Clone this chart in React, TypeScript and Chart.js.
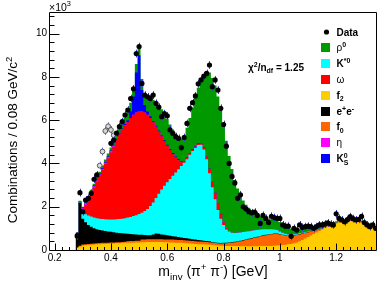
import { useEffect, useRef } from "react";
import { Chart, registerables } from "chart.js";

Chart.register(...registerables);

const W = 382;
const H = 283;
const FONT = '"Liberation Sans", Arial, Helvetica, sans-serif';

// ---- binning (GeV) ----
const BIN_START = 0.28;
const BIN_WIDTH = 0.01;

// ---- stacked components, per bin, in units of 10^3 ----
const F2 = [
  0.10, 0.15, 0.20, 0.22, 0.23, 0.24, 0.25, 0.26, 0.27, 0.28,
  0.28, 0.29, 0.30, 0.30, 0.31, 0.31, 0.32, 0.33, 0.33, 0.34,
  0.34, 0.35, 0.35, 0.36, 0.36, 0.37, 0.37, 0.37, 0.37, 0.37,
  0.37, 0.36, 0.36, 0.35, 0.35, 0.34, 0.33, 0.33, 0.32, 0.31,
  0.30, 0.29, 0.28, 0.27, 0.27, 0.26, 0.25, 0.24, 0.23, 0.22,
  0.21, 0.20, 0.20, 0.19, 0.19, 0.18, 0.18, 0.18, 0.17, 0.17,
  0.17, 0.17, 0.17, 0.17, 0.17, 0.18, 0.18, 0.18, 0.19, 0.19,
  0.20, 0.21, 0.22, 0.23, 0.24, 0.26, 0.28, 0.31, 0.35, 0.40,
  0.46, 0.53, 0.60, 0.67, 0.74, 0.81, 0.88, 0.95, 1.02, 1.08,
  1.14, 1.19, 1.23, 1.27, 1.30, 1.32, 1.33, 1.34, 1.33, 1.31,
  1.29, 1.26, 1.22, 1.18, 1.13, 1.07, 1.00,
];
const F0 = [
  0.02, 0.05, 0.05, 0.05, 0.05, 0.05, 0.05, 0.05, 0.05, 0.05,
  0.05, 0.05, 0.05, 0.05, 0.05, 0.05, 0.05, 0.05, 0.08, 0.08,
  0.08, 0.08, 0.08, 0.13, 0.13, 0.13, 0.13, 0.13, 0.13, 0.13,
  0.13, 0.13, 0.13, 0.13, 0.13, 0.13, 0.13, 0.13, 0.13, 0.13,
  0.13, 0.13, 0.13, 0.12, 0.12, 0.12, 0.12, 0.12, 0.10, 0.10,
  0.10, 0.10, 0.11, 0.12, 0.14, 0.16, 0.18, 0.21, 0.24, 0.27,
  0.30, 0.33, 0.36, 0.39, 0.42, 0.45, 0.48, 0.50, 0.52, 0.54,
  0.55, 0.54, 0.50, 0.46, 0.42, 0.39, 0.37, 0.36, 0.34, 0.32,
  0.30, 0.26, 0.22, 0.18, 0.14, 0.11, 0.08, 0.06, 0.05, 0.04,
  0.04, 0.03, 0.03, 0.03, 0.03, 0.03, 0.03, 0.03, 0.03, 0.03,
  0.03, 0.03, 0.03, 0.03, 0.03, 0.03, 0.03,
];
const EE = [
  0.68, 2.00, 1.20, 1.01, 0.87, 0.78, 0.70, 0.65, 0.61, 0.57,
  0.55, 0.52, 0.49, 0.47, 0.44, 0.43, 0.40, 0.38, 0.34, 0.32,
  0.31, 0.29, 0.28, 0.21, 0.20, 0.18, 0.18, 0.22, 0.26, 0.25,
  0.22, 0.21, 0.19, 0.18, 0.16, 0.15, 0.14, 0.12, 0.11, 0.10,
  0.09, 0.08, 0.07, 0.07, 0.06, 0.05, 0.05, 0.04, 0.03, 0.03,
  0.03, 0.02, 0.02, 0.02, 0.02, 0.02, 0.02, 0.02, 0.02, 0.02,
  0.02, 0.02, 0.02, 0.02, 0.02, 0.02, 0.02, 0.02, 0.01, 0.01,
  0.01, 0.01, 0.01, 0.01, 0.01, 0.01, 0.01, 0.01, 0.01, 0.01,
  0.01, 0.01, 0.01, 0.01, 0.01, 0.01, 0.01, 0.01, 0.01, 0.01,
  0.01, 0.01, 0.01, 0.01, 0.01, 0.01, 0.01, 0.01, 0.01, 0.01,
  0.01, 0.01, 0.01, 0.01, 0.01, 0.01, 0.01,
];
const KSTAR = [
  0.00, 0.02, 0.27, 0.37, 0.45, 0.48, 0.50, 0.51, 0.52, 0.53,
  0.54, 0.55, 0.57, 0.59, 0.62, 0.64, 0.68, 0.71, 0.75, 0.79,
  0.84, 0.89, 0.95, 1.02, 1.11, 1.22, 1.35, 1.48, 1.64, 1.85,
  2.08, 2.27, 2.45, 2.62, 2.79, 2.96, 3.13, 3.30, 3.47, 3.66,
  3.88, 4.07, 4.24, 4.39, 4.42, 4.22, 3.78, 3.15, 2.54, 2.00,
  1.51, 1.13, 0.82, 0.62, 0.50, 0.44, 0.40, 0.39, 0.38, 0.37,
  0.36, 0.35, 0.34, 0.33, 0.32, 0.30, 0.28, 0.26, 0.24, 0.22,
  0.19, 0.16, 0.13, 0.10, 0.08, 0.06, 0.05, 0.05, 0.04, 0.04,
  0.03, 0.03, 0.03, 0.03, 0.03, 0.03, 0.03, 0.03, 0.02, 0.02,
  0.02, 0.02, 0.02, 0.02, 0.02, 0.02, 0.02, 0.02, 0.02, 0.02,
  0.02, 0.02, 0.02, 0.02, 0.02, 0.02, 0.02,
];
const OMEGA = [
  0.00, 0.00, 0.13, 0.44, 0.73, 1.05, 1.37, 1.69, 1.98, 2.27,
  2.55, 2.83, 3.10, 3.36, 3.64, 3.91, 4.13, 4.30, 4.40, 4.57,
  4.68, 4.74, 4.74, 4.68, 4.55, 4.35, 4.07, 3.70, 3.30, 2.88,
  2.45, 2.06, 1.69, 1.34, 1.01, 0.70, 0.42, 0.17, 0.06, 0.05,
  0.05, 0.05, 0.05, 0.05, 0.05, 0.08, 0.12, 0.18, 0.25, 0.30,
  0.32, 0.25, 0.12, 0.05, 0.02, 0, 0, 0, 0, 0,
  0, 0, 0, 0, 0, 0, 0, 0, 0, 0,
  0, 0, 0, 0, 0, 0, 0, 0, 0, 0,
  0, 0, 0, 0, 0, 0, 0, 0, 0, 0,
  0, 0, 0, 0, 0, 0, 0, 0, 0, 0,
  0, 0, 0, 0, 0, 0, 0,
];
const ETA = [
  0.00, 0.03, 0.08, 0.08, 0.08, 0.08, 0.08, 0.06, 0.06, 0.06,
  0.06, 0.06, 0.06, 0.06, 0.03, 0, 0, 0, 0, 0,
  0, 0, 0, 0, 0, 0, 0, 0, 0, 0,
  0, 0, 0, 0, 0, 0, 0, 0, 0, 0,
  0, 0, 0, 0, 0, 0, 0, 0, 0, 0,
  0, 0, 0, 0, 0, 0, 0, 0, 0, 0,
  0, 0, 0, 0, 0, 0, 0, 0, 0, 0,
  0, 0, 0, 0, 0, 0, 0, 0, 0, 0,
  0, 0, 0, 0, 0, 0, 0, 0, 0, 0,
  0, 0, 0, 0, 0, 0, 0, 0, 0, 0,
  0, 0, 0, 0, 0, 0, 0,
];
const KS = [
  0.00, 0.00, 0.03, 0.03, 0.03, 0.03, 0.03, 0.03, 0.03, 0.03,
  0.03, 0.03, 0.03, 0.03, 0.03, 0.03, 0.03, 0.05, 0.10, 0.30,
  0.85, 1.85, 2.60, 1.00, 0.35, 0.15, 0.08, 0.05, 0.04, 0.04,
  0.04, 0.04, 0.04, 0.04, 0.04, 0.04, 0.04, 0.04, 0.02, 0.02,
  0.02, 0.02, 0.02, 0.02, 0.02, 0.02, 0.02, 0.02, 0, 0,
  0, 0, 0, 0, 0, 0, 0, 0, 0, 0,
  0, 0, 0, 0, 0, 0, 0, 0, 0, 0,
  0, 0, 0, 0, 0, 0, 0, 0, 0, 0,
  0, 0, 0, 0, 0, 0, 0, 0, 0, 0,
  0, 0, 0, 0, 0, 0, 0, 0, 0, 0,
  0, 0, 0, 0, 0, 0, 0,
];
const RHO = [
  0.00, 0.03, 0.04, 0.05, 0.06, 0.07, 0.08, 0.09, 0.10, 0.11,
  0.12, 0.13, 0.14, 0.16, 0.18, 0.21, 0.25, 0.30, 0.38, 0.40,
  0.40, 0.40, 0.45, 0.50, 0.55, 0.65, 0.82, 1.00, 1.11, 1.18,
  1.21, 1.23, 1.19, 1.14, 1.07, 1.03, 1.01, 1.06, 1.19, 1.38,
  1.63, 1.96, 2.26, 2.58, 2.91, 3.35, 3.91, 4.45, 4.80, 4.95,
  4.93, 4.80, 4.53, 4.05, 3.48, 2.94, 2.46, 2.04, 1.73, 1.46,
  1.24, 1.07, 0.92, 0.80, 0.70, 0.61, 0.55, 0.51, 0.48, 0.46,
  0.44, 0.43, 0.43, 0.41, 0.36, 0.32, 0.28, 0.24, 0.23, 0.22,
  0.21, 0.20, 0.19, 0.18, 0.17, 0.15, 0.13, 0.10, 0.09, 0.07,
  0.05, 0.04, 0.04, 0.04, 0.04, 0.04, 0.04, 0.04, 0.04, 0.04,
  0.04, 0.04, 0.04, 0.04, 0.04, 0.04, 0.04,
];

// ---- measured data (10^3), null = not drawn ----
const DATA = [
  0.65, 2.65, 1.77, 2.31, 2.39, 2.62, 3.27, 3.47, null, null,
  null, null, 4.93, 5.08, 5.40, 5.70, 5.93, 6.24, 6.47, 7.00,
  7.45, 9.08, 9.40, 7.70, 7.16, 7.08, 7.00, 7.16, 6.78, 6.60,
  6.16, 6.30, 6.20, 5.55, 5.39, 5.24, 5.16, 4.73, 5.20, 5.85,
  6.55, 6.81, 7.12, 7.68, 7.86, 8.04, 8.16, 8.55, 7.55, 7.86,
  7.39, 6.55, 5.80, 4.80, 4.00, 3.40, 3.10, 2.39, 2.55, 2.00,
  1.90, 1.77, 1.72, 1.75, 1.60, 1.23, 1.60, 1.46, 1.27, 1.56,
  1.50, 1.46, 1.46, 1.16, 1.10, 1.10, 0.63, 1.00, 0.92, 1.16,
  1.05, 1.08, 1.10, 1.08, 1.00, 1.08, 1.16, 1.16, 1.20, 1.25,
  1.20, 1.16, 1.67, 1.46, 1.39, 1.30, 1.40, 1.54, 1.45, 1.39,
  1.42, 1.55, 1.27, 1.16, 1.08, 1.16, 1.00,
];
const OPEN_X = [0.35, 0.36, 0.37, 0.38, 0.39, 0.40, 0.41];
const OPEN_Y = [3.45, 3.90, 4.55, 5.50, 5.72, 5.55, 5.30];
const ERR_HALF = 0.18;

// ---- axes ----
const X_MIN = 0.18;
const X_MAX = 1.345;
const Y_MAX = 11;
const X_MAJOR = [0.2, 0.4, 0.6, 0.8, 1.0, 1.2];
const X_LABELS = ["0.2", "0.4", "0.6", "0.8", "1", "1.2"];
const X_MINOR_STEP = 0.025;
const Y_MAJOR = [0, 2, 4, 6, 8, 10];
const Y_LABELS = ["0", "2", "4", "6", "8", "10"];
const Y_MINOR_STEP = 0.4;

const COL = {
  rho: "#009900",
  kstar: "#00ffff",
  omega: "#ff0000",
  f2: "#ffcc00",
  ee: "#000000",
  f0: "#ff6600",
  eta: "#ff00ff",
  ks: "#0000ff",
};

type Seg = { t: string; k?: "sup" | "sub" | "supsub"; t2?: string; b?: boolean };

const LEGEND: { segs: Seg[]; color?: string }[] = [
  { segs: [{ t: "Data", b: true }] },
  { segs: [{ t: "ρ" }, { t: "0", k: "sup", b: true }], color: COL.rho },
  { segs: [{ t: "K", b: true }, { t: "*0", k: "sup", b: true }], color: COL.kstar },
  { segs: [{ t: "ω" }], color: COL.omega },
  { segs: [{ t: "f", b: true }, { t: "2", k: "sub", b: true }], color: COL.f2 },
  { segs: [{ t: "e", b: true }, { t: "+", k: "sup", b: true }, { t: "e", b: true }, { t: "-", k: "sup", b: true }], color: COL.ee },
  { segs: [{ t: "f", b: true }, { t: "0", k: "sub", b: true }], color: COL.f0 },
  { segs: [{ t: "η" }], color: COL.eta },
  { segs: [{ t: "K", b: true }, { t: "0", k: "supsub", t2: "S", b: true }], color: COL.ks },
];

const N = F2.length;
const CENTERS = F2.map((_, i) => Math.round((BIN_START + i * BIN_WIDTH) * 1000) / 1000);

function histPoints(vals: number[]) {
  const pts = vals.map((v, i) => ({ x: Math.round((CENTERS[i] - BIN_WIDTH / 2) * 10000) / 10000, y: v }));
  pts.push({ x: Math.round((CENTERS[N - 1] + BIN_WIDTH / 2) * 10000) / 10000, y: vals[N - 1] });
  return pts;
}

function fontOf(size: number, bold?: boolean) {
  return `${bold ? "bold " : ""}${size}px ${FONT}`;
}
function segW(ctx: CanvasRenderingContext2D, s: Seg, size: number) {
  const sz = s.k ? size * 0.7 : size;
  ctx.font = fontOf(sz, s.b);
  let w = ctx.measureText(s.t).width;
  if (s.k === "supsub" && s.t2) w = Math.max(w, ctx.measureText(s.t2).width);
  return w;
}
function drawRich(ctx: CanvasRenderingContext2D, segs: Seg[], x: number, y: number, size: number, align: "left" | "center" = "left") {
  let total = 0;
  for (const s of segs) total += segW(ctx, s, size);
  let cx = align === "center" ? x - total / 2 : x;
  ctx.textAlign = "left";
  ctx.textBaseline = "alphabetic";
  for (const s of segs) {
    const w = segW(ctx, s, size);
    if (!s.k) ctx.fillText(s.t, cx, y);
    else if (s.k === "sup") ctx.fillText(s.t, cx, y - size * 0.4);
    else if (s.k === "sub") ctx.fillText(s.t, cx, y + size * 0.25);
    else {
      ctx.fillText(s.t, cx, y - size * 0.4);
      if (s.t2) ctx.fillText(s.t2, cx, y + size * 0.32);
    }
    cx += w;
  }
}

const errorBarPlugin = {
  id: "errorBars",
  beforeDatasetDraw(chart: any, args: any) {
    const ds = chart.data.datasets[args.index];
    if (!ds.errHalf) return;
    const ctx: CanvasRenderingContext2D = chart.ctx;
    const ys = chart.scales.y;
    const area = chart.chartArea;
    ctx.save();
    ctx.beginPath();
    ctx.rect(area.left, area.top, area.right - area.left, area.bottom - area.top);
    ctx.clip();
    ctx.strokeStyle = ds.errColor;
    ctx.lineWidth = 1;
    args.meta.data.forEach((pt: any, i: number) => {
      const raw = ds.data[i];
      const top = ys.getPixelForValue(raw.y + ds.errHalf);
      const bot = ys.getPixelForValue(raw.y - ds.errHalf);
      const px = Math.round(pt.x) + 0.5;
      ctx.beginPath();
      ctx.moveTo(px, top);
      ctx.lineTo(px, bot);
      ctx.stroke();
    });
    ctx.restore();
  },
};

const decorPlugin = {
  id: "decor",
  afterDraw(chart: any) {
    const ctx: CanvasRenderingContext2D = chart.ctx;
    const xs = chart.scales.x;
    const ys = chart.scales.y;
    const a = chart.chartArea;
    const L = Math.round(a.left) + 0.5;
    const R = Math.round(a.right) - 0.5;
    const T = Math.round(a.top) + 0.5;
    const B = Math.round(a.bottom) + 0.5;
    ctx.save();
    ctx.strokeStyle = "#000";
    ctx.fillStyle = "#000";
    ctx.lineWidth = 1;
    // frame
    ctx.beginPath();
    ctx.moveTo(L, T);
    ctx.lineTo(R, T);
    ctx.lineTo(R, B);
    ctx.lineTo(L, B);
    ctx.closePath();
    ctx.stroke();

    // x ticks
    ctx.beginPath();
    for (let k = -2; k < 60; k++) {
      const v = X_MAJOR[0] + k * X_MINOR_STEP;
      if (v < X_MIN || v > X_MAX) continue;
      const major = X_MAJOR.some((m) => Math.abs(m - v) < 1e-6);
      const px = Math.round(xs.getPixelForValue(v)) + 0.5;
      ctx.moveTo(px, B);
      ctx.lineTo(px, B - (major ? 7 : 3.5));
    }
    // y ticks
    for (let k = 0; k * Y_MINOR_STEP <= Y_MAX + 1e-6; k++) {
      const v = k * Y_MINOR_STEP;
      const major = Y_MAJOR.some((m) => Math.abs(m - v) < 1e-6);
      const py = Math.round(ys.getPixelForValue(v)) + 0.5;
      ctx.moveTo(L, py);
      ctx.lineTo(L + (major ? 10 : 5), py);
    }
    ctx.stroke();

    // tick labels
    ctx.font = fontOf(10);
    ctx.textAlign = "center";
    ctx.textBaseline = "alphabetic";
    X_MAJOR.forEach((v, i) => ctx.fillText(X_LABELS[i], xs.getPixelForValue(v), 261));
    ctx.textAlign = "right";
    ctx.textBaseline = "middle";
    Y_MAJOR.forEach((v, i) => ctx.fillText(Y_LABELS[i], 47, ys.getPixelForValue(v)));

    // exponent
    drawRich(ctx, [{ t: "×10" }, { t: "3", k: "sup" }], a.left, 10.5, 10.5);

    // axis titles
    drawRich(
      ctx,
      [{ t: "m" }, { t: "inv", k: "sub" }, { t: " (π" }, { t: "+", k: "sup" }, { t: " π" }, { t: "-", k: "sup" }, { t: ") [GeV]" }],
      (a.left + a.right) / 2,
      276,
      14,
      "center"
    );
    ctx.save();
    ctx.translate(17, 140);
    ctx.rotate(-Math.PI / 2);
    drawRich(ctx, [{ t: "Combinations / 0.08 GeV/c" }, { t: "2", k: "sup" }], 0, 0, 13.5, "center");
    ctx.restore();

    // chi2 text
    drawRich(
      ctx,
      [{ t: "χ", b: true }, { t: "2", k: "sup", b: true }, { t: "/n", b: true }, { t: "df", k: "sub", b: true }, { t: " = 1.25", b: true }],
      248,
      70.5,
      10
    );

    // legend
    const rowY0 = 32;
    const rowDy = 15.8;
    LEGEND.forEach((item, i) => {
      const cy = rowY0 + i * rowDy;
      if (!item.color) {
        ctx.fillStyle = "#000";
        ctx.beginPath();
        ctx.arc(326.5, cy, 2.6, 0, Math.PI * 2);
        ctx.fill();
      } else {
        ctx.fillStyle = item.color;
        ctx.fillRect(321, Math.round(cy - 4.5), 9, 9);
      }
      ctx.fillStyle = "#000";
      drawRich(ctx, item.segs, 336.5, cy + 3.6, 10);
    });
    ctx.restore();
  },
};

export default function App() {
  const ref = useRef<HTMLCanvasElement | null>(null);

  useEffect(() => {
    if (!ref.current) return;
    document.body.style.margin = "0";

    const hist = [
      { label: "f2", values: F2, color: COL.f2 },
      { label: "f0", values: F0, color: COL.f0 },
      { label: "e+e-", values: EE, color: COL.ee },
      { label: "K*0", values: KSTAR, color: COL.kstar },
      { label: "omega", values: OMEGA, color: COL.omega },
      { label: "eta", values: ETA, color: COL.eta },
      { label: "K0S", values: KS, color: COL.ks },
      { label: "rho0", values: RHO, color: COL.rho },
    ];

    const dataPts = DATA.map((v, i) => (v === null ? null : { x: CENTERS[i], y: v })).filter(Boolean) as { x: number; y: number }[];
    const openPts = OPEN_X.map((x, i) => ({ x, y: OPEN_Y[i] }));

    const datasets: any[] = [
      {
        label: "Data",
        data: dataPts,
        stack: "data",
        showLine: false,
        pointRadius: 2.6,
        pointBackgroundColor: "#000",
        pointBorderWidth: 0,
        borderColor: "rgba(0,0,0,0)",
        fill: false,
        errHalf: ERR_HALF,
        errColor: "#3a3ad0",
      },
      {
        label: "Excluded",
        data: openPts,
        stack: "open",
        showLine: false,
        pointRadius: 2.4,
        pointBackgroundColor: "#d8d8d8",
        pointBorderColor: "#555555",
        pointBorderWidth: 1,
        borderColor: "rgba(0,0,0,0)",
        fill: false,
        errHalf: ERR_HALF,
        errColor: "#6a6ad8",
      },
      ...hist.map((h) => ({
        label: h.label,
        data: histPoints(h.values),
        stack: "hist",
        stepped: "before",
        fill: "origin",
        backgroundColor: h.color,
        borderColor: "rgba(0,0,0,0)",
        borderWidth: 0,
        pointRadius: 0,
        tension: 0,
      })),
    ];

    const chart = new Chart(ref.current, {
      type: "line",
      data: { datasets },
      options: {
        animation: false,
        responsive: false,
        devicePixelRatio: 1,
        events: [],
        layout: { padding: { left: 49, top: 12, right: 1, bottom: 33 } },
        plugins: {
          legend: { display: false },
          tooltip: { enabled: false },
          title: { display: false },
        },
        scales: {
          x: { type: "linear", min: X_MIN, max: X_MAX, display: false },
          y: { type: "linear", min: 0, max: Y_MAX, stacked: true, display: false },
        },
      },
      plugins: [errorBarPlugin, decorPlugin],
    } as any);

    return () => chart.destroy();
  }, []);

  return (
    <div style={{ position: "absolute", left: 0, top: 0, width: W, height: H, background: "#fff" }}>
      <canvas ref={ref} width={W} height={H} style={{ display: "block", width: W, height: H }} />
    </div>
  );
}
